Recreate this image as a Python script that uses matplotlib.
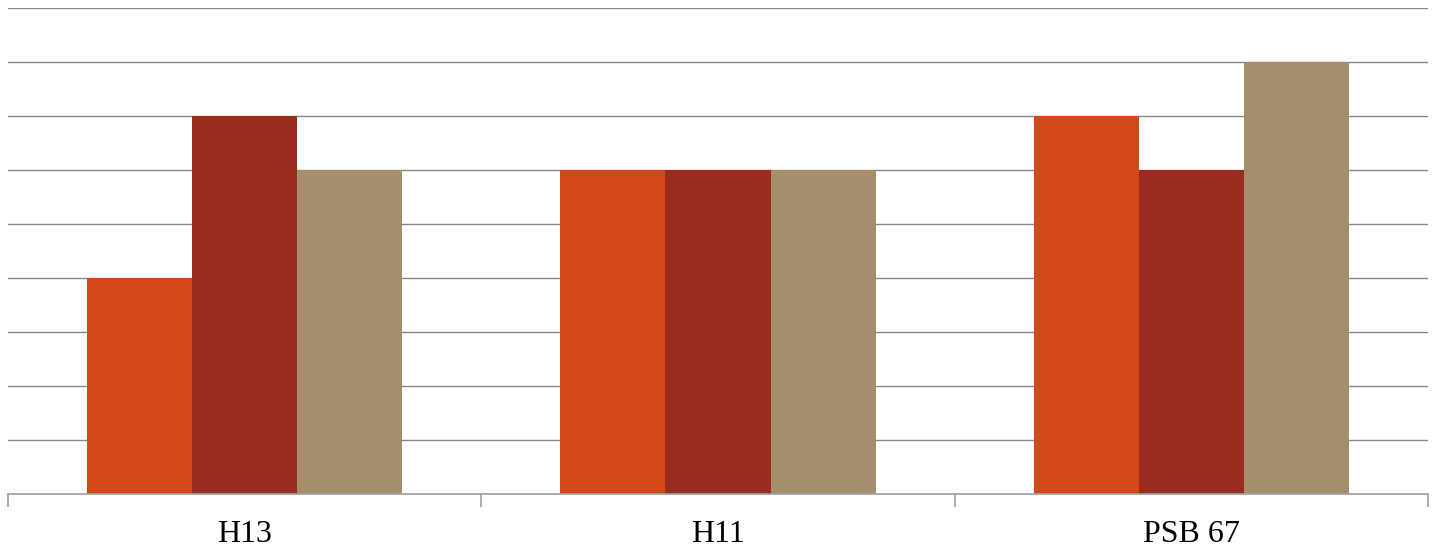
import matplotlib
matplotlib.use("Agg")
import matplotlib.pyplot as plt
import numpy as np

categories = ["H13", "H11", "PSB 67"]
series_a = [4, 6, 7]
series_b = [7, 6, 6]
series_c = [6, 6, 8]
colors = ["#D24817", "#9A2B1F", "#A58E6B"]

W, H = 1435, 550
fig = plt.figure(figsize=(W/100, H/100), dpi=100)
ax = fig.add_axes([8/W, 1-494/H, 1420/W, 486/H])

x = np.arange(len(categories))
bw = 2/9
for i, (vals, c) in enumerate(zip([series_a, series_b, series_c], colors)):
    ax.bar(x + (i-1)*bw, vals, width=bw, color=c, zorder=2)

ax.set_xlim(-0.5, len(categories)-0.5)
ax.set_ylim(0, 9)
ax.set_yticks(np.arange(0, 10, 1))
ax.yaxis.grid(True, color="#868686", linewidth=1.0, zorder=0)
ax.set_axisbelow(True)
ax.tick_params(axis="y", left=False, labelleft=False)
for s in ["top", "right", "left"]:
    ax.spines[s].set_visible(False)
ax.spines["bottom"].set_color("#A0A0A0")
ax.spines["bottom"].set_linewidth(1.2)

ax.set_xticks(np.arange(-0.5, len(categories), 1))
ax.set_xticks(x, minor=True)
ax.set_xticklabels([])
ax.set_xticklabels(categories, minor=True, fontfamily="Liberation Serif", fontsize=23)
ax.tick_params(axis="x", which="major", length=9, color="#A0A0A0", width=1.2)
ax.tick_params(axis="x", which="minor", length=0, pad=19)

fig.savefig("out.png", dpi=100)
